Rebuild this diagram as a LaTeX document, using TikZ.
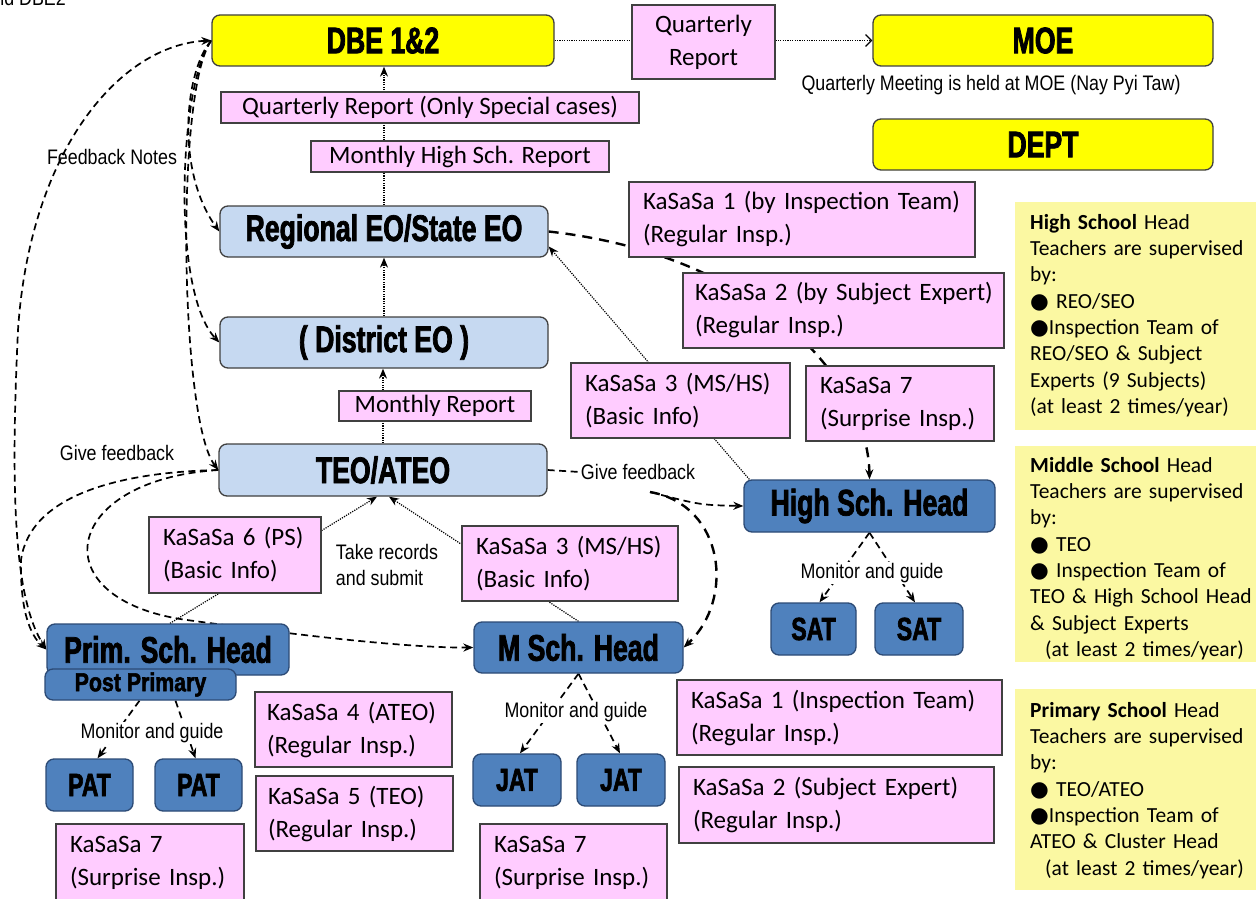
\documentclass[tikz,border=0pt]{standalone}
\usepackage{fontspec}
\usetikzlibrary{arrows.meta}
\setmainfont{Carlito}
\newfontfamily\calib{Carlito}
\newfontfamily\narrow[FakeStretch=0.85]{Liberation Sans}
\newfontfamily\heavy[FakeStretch=0.72,FakeBold=2]{Liberation Sans}
\newfontfamily\heavywide[FakeStretch=0.82,FakeBold=2]{Liberation Sans}
\newfontfamily\djv{DejaVu Sans}
\newcommand{\blt}{{\djv ●}}

\definecolor{ybox}{HTML}{FFFF00}
\definecolor{lblue}{HTML}{C6D9F1}
\definecolor{dblue}{HTML}{4F81BD}
\definecolor{dblueline}{HTML}{2C4A75}
\definecolor{pinkfill}{HTML}{FFCCFF}
\definecolor{infoyellow}{HTML}{FBF8A2}
\definecolor{boxline}{HTML}{404040}

\pgfdeclarelayer{back}
\pgfdeclarelayer{lines}
\pgfsetlayers{back,lines,main}

\tikzset{
  headbox/.style={line width=1.3pt, rounded corners=8pt, inner sep=0pt,
    font=\heavy\bfseries\fontsize{37}{42}\selectfont},
  yellowbox/.style={headbox, draw=boxline, fill=ybox},
  lightbox/.style={headbox, draw=boxline, fill=lblue},
  darkbox/.style={headbox, draw=dblueline, fill=dblue},
  smallhead/.style={font=\heavy\bfseries\fontsize{32}{36}\selectfont},
  pinkbox/.style={draw=boxline, fill=pinkfill, line width=1.3pt, inner xsep=14pt,
    inner ysep=0pt, font=\calib\fontsize{25}{33}\selectfont, align=left},
  pinkc/.style={pinkbox, align=center, inner xsep=0pt},
  infobox/.style={fill=infoyellow, inner sep=0pt},
  infotext/.style={font=\calib\fontsize{21.5}{26.3}\selectfont, align=left,
    inner sep=0pt, text width=226pt, anchor=north west},
  lbl/.style={font=\narrow\fontsize{21}{26}\selectfont, inner sep=1pt},
  dotline/.style={line width=1.2pt, dash pattern=on 1.2pt off 1.2pt},
  fdash/.style={line width=1.7pt, dash pattern=on 7pt off 4.5pt},
  bigdash/.style={line width=2.4pt, dash pattern=on 10pt off 7pt},
  arr/.style={-{Stealth[length=10pt,width=8pt]}},
  arrs/.style={{Stealth[length=10pt,width=8pt]}-{Stealth[length=10pt,width=8pt]}},
}

\begin{document}
\begin{tikzpicture}[x=1pt,y=-1pt]
\useasboundingbox (0,0) rectangle (1256,899);
\begin{pgfonlayer}{back}
  \fill[white] (0,0) rectangle (1256,899);
\end{pgfonlayer}

% heading left over from the slide title
\node[lbl, anchor=base east] (cut) at (67,6) {and DBE2};

% ministry level
\node[yellowbox, minimum width=342pt, minimum height=51pt] (dbe) at (383,40.5) {DBE 1\&2};
\node[yellowbox, minimum width=340pt, minimum height=51pt] (moe) at (1043,40.5) {MOE};
\node[yellowbox, minimum width=340pt, minimum height=51pt] (dept) at (1043,144.5) {DEPT};
\node[lbl] (meet) at (991,85) {Quarterly Meeting is held at MOE (Nay Pyi Taw)};

% education offices
\node[lightbox, minimum width=328pt, minimum height=51pt] (reg) at (384,231.5) {Regional EO/State EO};
\node[lightbox, minimum width=328pt, minimum height=51pt] (dist) at (384,342.5) {( District EO )};
\node[lightbox, minimum width=328pt, minimum height=52pt] (teo) at (383,470) {TEO/ATEO};

% schools and teachers
\node[darkbox, minimum width=251pt, minimum height=52pt] (high) at (869.5,506) {High Sch. Head};
\node[darkbox, smallhead, minimum width=85pt, minimum height=52pt] (sat1) at (813.5,629) {SAT};
\node[darkbox, smallhead, minimum width=88pt, minimum height=52pt] (sat2) at (919,629) {SAT};
\node[darkbox, minimum width=242pt, minimum height=51pt] (prim) at (168,649.5) {Prim. Sch. Head};
\node[darkbox, font=\heavywide\bfseries\fontsize{26}{28}\selectfont, minimum width=191pt, minimum height=31pt] (pp) at (140.5,684.5) {Post Primary};
\node[darkbox, smallhead, minimum width=87pt, minimum height=52pt] (pat1) at (89.5,785) {PAT};
\node[darkbox, smallhead, minimum width=87pt, minimum height=52pt] (pat2) at (198.5,785) {PAT};
\node[darkbox, minimum width=209pt, minimum height=51pt] (msch) at (578.5,647.5) {M Sch. Head};
\node[darkbox, smallhead, minimum width=88pt, minimum height=52pt] (jat1) at (517,780) {JAT};
\node[darkbox, smallhead, minimum width=88pt, minimum height=52pt] (jat2) at (621,780) {JAT};

% reports and inspections
\node[pinkc, minimum width=143pt, minimum height=74pt] (qr) at (703.5,42) {Quarterly\\Report};
\node[pinkc, minimum width=418pt, minimum height=31pt] (qrs) at (430,107.5) {Quarterly Report (Only Special cases)};
\node[pinkc, minimum width=298pt, minimum height=31pt] (mhs) at (460,156.5) {Monthly High Sch. Report};
\node[pinkc, minimum width=192pt, minimum height=30pt] (mr) at (435,406) {Monthly Report};
\node[pinkbox, minimum width=346pt, minimum height=75pt, text width=318pt] (k1) at (802,219.5) {KaSaSa 1 (by Inspection Team)\\(Regular Insp.)};
\node[pinkbox, inner xsep=12pt, minimum width=321pt, minimum height=75pt, text width=297pt] (k2) at (843.5,310.5) {\mbox{KaSaSa 2 (by Subject Expert)}\\(Regular Insp.)};
\node[pinkbox, minimum width=219pt, minimum height=75pt, text width=191pt] (k3u) at (680.5,400.5) {KaSaSa 3 (MS/HS)\\(Basic Info)};
\node[pinkbox, minimum width=188pt, minimum height=75pt, text width=160pt] (k7u) at (900,403.5) {KaSaSa 7\\(Surprise Insp.)};
\node[pinkbox, minimum width=172pt, minimum height=76pt, text width=144pt] (k6) at (235,555) {KaSaSa 6 (PS)\\(Basic Info)};
\node[pinkbox, minimum width=216pt, minimum height=75pt, text width=188pt] (k3l) at (570,563.5) {KaSaSa 3 (MS/HS)\\(Basic Info)};
\node[pinkbox, inner xsep=12pt, minimum width=197pt, minimum height=75pt, text width=173pt] (k4) at (353.5,729.5) {\mbox{KaSaSa 4 (ATEO)}\\(Regular Insp.)};
\node[pinkbox, inner xsep=12pt, minimum width=197pt, minimum height=75pt, text width=173pt] (k5) at (354.5,813.5) {KaSaSa 5 (TEO)\\(Regular Insp.)};
\node[pinkbox, minimum width=188pt, minimum height=78pt, text width=160pt] (k7l) at (150,863) {KaSaSa 7\\(Surprise Insp.)};
\node[pinkbox, minimum width=187pt, minimum height=78pt, text width=159pt] (k7m) at (573.5,863) {KaSaSa 7\\(Surprise Insp.)};
\node[pinkbox, minimum width=325pt, minimum height=75pt, text width=297pt] (k1b) at (839.5,717.5) {KaSaSa 1 (Inspection Team)\\(Regular Insp.)};
\node[pinkbox, minimum width=315pt, minimum height=76pt, text width=287pt] (k2b) at (836.5,805) {KaSaSa 2 (Subject Expert)\\(Regular Insp.)};

% supervision notes
\node[infobox, minimum width=241pt, minimum height=228pt] (hsbox) at (1135.5,316) {};
\node[infobox, minimum width=241pt, minimum height=216pt] (msbox) at (1135.5,554) {};
\node[infobox, minimum width=241pt, minimum height=201pt] (psbox) at (1135.5,789.5) {};
\node[infotext] (hstext) at (1030,214) {\textbf{High School} Head\\Teachers are supervised\\by:\\\blt\ REO/SEO\\\blt Inspection Team of\\REO/SEO \& Subject\\Experts (9 Subjects)\\(at least 2 times/year)};
\node[infotext] (mstext) at (1030,457) {\textbf{Middle School} Head\\Teachers are supervised\\by:\\\blt\ TEO\\\blt\ Inspection Team of\\TEO \& High School Head\\\& Subject Experts\\\hspace*{15pt}(at least 2 times/year)};
\node[infotext] (pstext) at (1030,702) {\textbf{Primary School} Head\\Teachers are supervised\\by:\\\blt\ TEO/ATEO\\\blt Inspection Team of\\ATEO \& Cluster Head\\\hspace*{15pt}(at least 2 times/year)};

% free labels
\node[lbl] (fbn) at (112,157) {Feedback Notes};
\node[lbl] (gfl) at (117,453) {Give feedback};
\node[lbl] (gfr) at (638,472) {Give feedback};
\node[lbl, align=left] (take) at (387,565) {Take records\\and submit};
\node[lbl, fill=white] (mg1) at (872,573) {Monitor and guide};
\node[lbl, fill=white] (mg2) at (576,712) {Monitor and guide};
\node[lbl, fill=white] (mg3) at (152,733) {Monitor and guide};
\coordinate (gfo) at (650,492);

\begin{pgfonlayer}{lines}
  % reporting lines
  \draw[dotline, -{Straight Barb[length=6pt,width=12pt]}] (dbe.east) -- (moe.west);
  \draw[dotline, arr] (reg.north) -- (reg.north |- dbe.south);
  \draw[dotline, arr] (dist.north) -- (reg.south);
  \draw[dotline, arr] (teo.north) -- (teo.north |- dist.south);
  \draw[dotline, arr] ([xshift=2pt]prim.north) -- ([xshift=-6pt]teo.south);
  \draw[dotline, arr] (msch.north) -- ([xshift=6pt]teo.south);
  \draw[dotline, arr] ([xshift=6pt]high.north west) -- ([yshift=-15pt]reg.east);
  % inspections of the high school
  \draw[bigdash, arr] (reg.east) .. controls (760,255) and (868,380) .. (high.north);
  % feedback from the township office
  \draw[fdash] (teo.east) -- (gfr.west);
  \draw[fdash, arr] (gfo) .. controls (700,505) .. (high.west);
  \draw[bigdash, arr] (gfo) .. controls (725,505) and (735,600) .. (msch.east);
  \draw[fdash, arr] (teo.west) .. controls (120,472) and (30,495) .. (21,560)
    .. controls (20,610) and (30,635) .. (prim.west);
  \draw[fdash, arr] (teo.west) .. controls (60,480) and (40,600) .. (187,620)
    .. controls (275,632) and (400,648) .. (msch.west);
  % feedback notes from DBE
  \draw[fdash, arr] (dbe.west) .. controls (185,70) and (175,170) .. (reg.west);
  \draw[fdash, arr] (dbe.west) .. controls (180,80) and (170,290) .. (dist.west);
  \draw[fdash, arr] (dbe.west) .. controls (175,90) and (180,420) .. (teo.west);
  \draw[fdash, arrs] (dbe.west) .. controls (120,45) and (30,150) .. (18,330)
    .. controls (10,500) and (15,600) .. (prim.west);
  % monitoring of teachers
  \draw[fdash, arr] (high.south) -- ([xshift=6pt]sat1.north);
  \draw[fdash, arr] (high.south) -- ([xshift=-4pt]sat2.north);
  \draw[fdash, arr] (msch.south) -- ([xshift=3pt]jat1.north);
  \draw[fdash, arr] (msch.south) -- ([xshift=-1pt]jat2.north);
  \draw[fdash, arr] ([xshift=-1pt]pp.south) -- ([xshift=8pt]pat1.north);
  \draw[fdash, arr] ([xshift=35pt]pp.south) -- ([xshift=-3pt]pat2.north);
\end{pgfonlayer}
\end{tikzpicture}
\end{document}
